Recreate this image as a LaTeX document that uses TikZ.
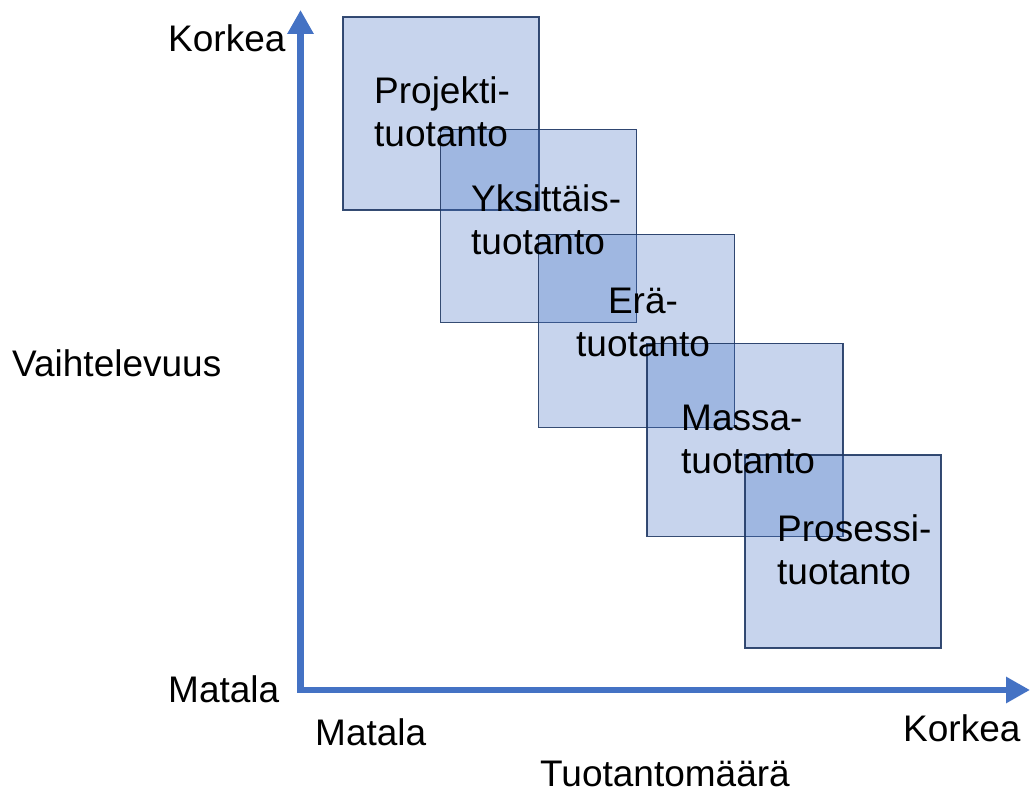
\documentclass[tikz,border=0pt]{standalone}
\usepackage{fontspec}
\setmainfont{Liberation Sans}
\usetikzlibrary{arrows.meta}
\definecolor{axisblue}{HTML}{4472C4}
\definecolor{boxfill}{HTML}{4472C4}
\definecolor{boxline}{HTML}{1F3864}
\begin{document}
\begin{tikzpicture}[x=1pt,y=1pt,
  lbl/.style={inner sep=0pt, font=\fontsize{37}{43.5}\selectfont, text=black},
  box/.style={rectangle, draw=boxline, line width=1.8pt, fill=boxfill, fill opacity=0.3, draw opacity=0.9,
    minimum width=196pt, minimum height=193pt, inner sep=0pt},
  axis/.style={draw=axisblue, line width=6.5pt, line join=miter,
    {Triangle[length=24pt,width=25pt]}-{Triangle[length=24pt,width=25pt]}}]
\useasboundingbox (0,0) rectangle (1030,794);
% boxes
\node[box] (b1) at (441,680.5) {};
\node[box] (b2) at (538.5,568) {};
\node[box] (b3) at (636.5,463) {};
\node[box] (b4) at (745,354) {};
\node[box] (b5) at (843,242.5) {};
% axes
\coordinate (ytop) at (300.5,784);
\coordinate (orig) at (300.5,104);
\coordinate (xend) at (1030,104);
\draw[axis] (ytop) -- (orig) -- (xend);
% box texts (base = baseline of last line)
\node[lbl, anchor=base west, align=left] (t1) at (374,647) {Projekti-\\tuotanto};
\node[lbl, anchor=base west, align=left] (t2) at (471,539) {Yksittäis-\\tuotanto};
\node[lbl, anchor=base, align=center] (t3) at (643,437) {Erä-\\tuotanto};
\node[lbl, anchor=base west, align=left] (t4) at (681,320) {Massa-\\tuotanto};
\node[lbl, anchor=base west, align=left] (t5) at (777,209) {Prosessi-\\tuotanto};
% axis labels
\node[lbl, anchor=base west] (ykork) at (168,742) {Korkea};
\node[lbl, anchor=base west] (ymat) at (168,91) {Matala};
\node[lbl, anchor=base west] (ytit) at (12,417) {Vaihtelevuus};
\node[lbl, anchor=base west] (xmat) at (315,48) {Matala};
\node[lbl, anchor=base west] (xkork) at (903,52) {Korkea};
\node[lbl, anchor=base west] (xtit) at (540,7) {Tuotantomäärä};
\end{tikzpicture}
\end{document}
